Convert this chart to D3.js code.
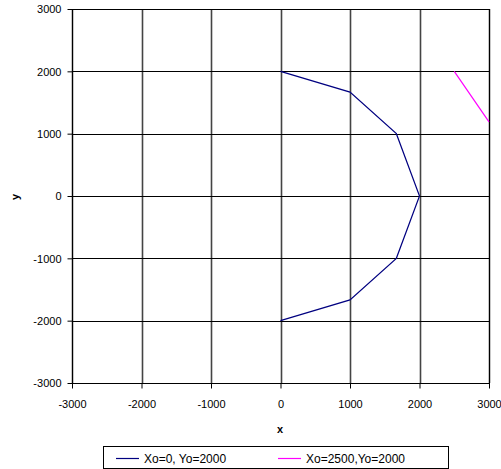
<!DOCTYPE html>
<html><head><meta charset="utf-8">
<script src="https://cdn.jsdelivr.net/npm/d3@7"></script>
<style>body{margin:0;background:#fff;}svg{display:block;font-family:"Liberation Sans",Arial,sans-serif;}</style>
</head><body><svg id="c" width="501" height="469"></svg>
<script>
const ticks = [-3000,-2000,-1000,0,1000,2000,3000];
const seriesNames = ["Xo=0, Yo=2000","Xo=2500,Yo=2000"];
const seriesColors = ["#000080","#FF00FF"];
const s1x = [0,1000,1667,2000,1667,1000,0];
const s1y = [2000,1667,1000,0,-1000,-1667,-2000];
const s2x = [2500,3000];
const s2y = [2000,1190];

const svg = d3.select("#c");
const L=72,R=489,T=9,B=383;
const x = d3.scaleLinear().domain([-3000,3000]).range([L,R]);
const y = d3.scaleLinear().domain([-3000,3000]).range([B,T]);

// grid
svg.append("g").selectAll("line").data(ticks).join("line")
 .attr("x1",d=>Math.round(x(d))+0.5).attr("x2",d=>Math.round(x(d))+0.5)
 .attr("y1",T).attr("y2",B).attr("stroke","#444").attr("stroke-width",1.6);
svg.append("g").selectAll("line").data(ticks).join("line")
 .attr("y1",d=>Math.round(y(d))+0.5).attr("y2",d=>Math.round(y(d))+0.5)
 .attr("x1",L).attr("x2",R).attr("stroke","#000").attr("stroke-width",1);

// axes
const fmt = d=>String(d);
const xa = svg.append("g").attr("transform",`translate(0,${B+0.5})`)
 .call(d3.axisBottom(x).tickValues(ticks).tickSize(5).tickPadding(12).tickFormat(fmt));
const ya = svg.append("g").attr("transform",`translate(${L+0.5},0)`)
 .call(d3.axisLeft(y).tickValues(ticks).tickSize(5).tickPadding(6).tickFormat(fmt));
[xa,ya].forEach(a=>{a.select(".domain").remove();a.selectAll("line").attr("stroke","#000");
 a.selectAll("text").attr("font-size",11).attr("font-family","Liberation Sans, Arial, sans-serif").attr("fill","#000");});
ya.selectAll("text").attr("dy","0.35em");

// border
svg.append("rect").attr("x",L+0.5).attr("y",T+0.5).attr("width",R-L).attr("height",B-T)
 .attr("fill","none").attr("stroke","#000");

svg.append("clipPath").attr("id","pc").append("rect").attr("x",L).attr("y",T).attr("width",R-L+1).attr("height",B-T);
const line = d3.line().x(d=>x(d[0])).y(d=>y(d[1]));
const g = svg.append("g").attr("clip-path","url(#pc)");
g.append("path").datum(d3.zip(s1x,s1y)).attr("d",line).attr("fill","none").attr("stroke",seriesColors[0]).attr("stroke-width",1.2);
g.append("path").datum(d3.zip(s2x,s2y)).attr("d",line).attr("fill","none").attr("stroke",seriesColors[1]).attr("stroke-width",1.2);

// axis titles
svg.append("text").attr("x",280).attr("y",433).attr("text-anchor","middle").attr("font-weight","bold").attr("font-size",11).text("x");
svg.append("text").attr("transform","translate(19,197) rotate(-90)").attr("text-anchor","middle").attr("font-weight","bold").attr("font-size",11).text("y");

// legend
svg.append("rect").attr("x",103.5).attr("y",446.5).attr("width",345).attr("height",22).attr("fill","#fff").attr("stroke","#000");
const lx=[116,278], tx=[144,306];
seriesNames.forEach((n,i)=>{
 svg.append("line").attr("x1",lx[i]).attr("x2",lx[i]+23).attr("y1",458.5).attr("y2",458.5).attr("stroke",seriesColors[i]).attr("stroke-width",1.2);
 svg.append("text").attr("x",tx[i]).attr("y",462.5).attr("font-size",12).text(n);
});
</script></body></html>
